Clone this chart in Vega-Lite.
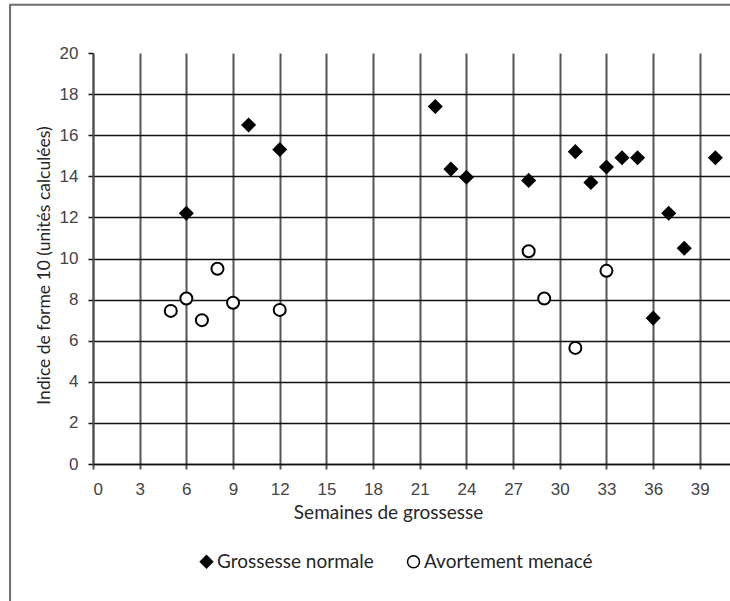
{
  "$schema": "https://vega.github.io/schema/vega-lite/v6.json",
  "width": 637,
  "height": 411,
  "autosize": "none",
  "padding": {"left": 93, "top": 53, "right": 0, "bottom": 137},
  "background": "white",
  "config": {
    "view": {"stroke": null},
    "axis": {
      "labelFont": "Liberation Sans",
      "labelFontSize": 17,
      "labelColor": "#444444",
      "titleFont": "Lato",
      "titleFontSize": 19,
      "titleFontWeight": "normal",
      "titleColor": "#262626",
      "tickSize": 5,
      "grid": true
    }
  },
  "layer": [
    {
      "data": {"values": [{}]},
      "mark": {"type": "rect", "fill": null, "stroke": "#6e6e6e", "strokeWidth": 2},
      "encoding": {
        "x": {"datum": -5.33, "type": "quantitative", "scale": {"domain": [0, 40.94], "nice": false}},
        "x2": {"datum": 45},
        "y": {"datum": 22.35, "type": "quantitative", "scale": {"domain": [0, 20], "nice": false}},
        "y2": {"datum": -10}
      }
    },
    {
      "data": {
        "values": [
          {"semaine": 6, "indice": 12.2, "groupe": "Grossesse normale"},
          {"semaine": 10, "indice": 16.5, "groupe": "Grossesse normale"},
          {"semaine": 12, "indice": 15.3, "groupe": "Grossesse normale"},
          {"semaine": 22, "indice": 17.4, "groupe": "Grossesse normale"},
          {"semaine": 23, "indice": 14.35, "groupe": "Grossesse normale"},
          {"semaine": 24, "indice": 13.95, "groupe": "Grossesse normale"},
          {"semaine": 28, "indice": 13.8, "groupe": "Grossesse normale"},
          {"semaine": 31, "indice": 15.2, "groupe": "Grossesse normale"},
          {"semaine": 32, "indice": 13.7, "groupe": "Grossesse normale"},
          {"semaine": 33, "indice": 14.45, "groupe": "Grossesse normale"},
          {"semaine": 34, "indice": 14.9, "groupe": "Grossesse normale"},
          {"semaine": 35, "indice": 14.9, "groupe": "Grossesse normale"},
          {"semaine": 36, "indice": 7.1, "groupe": "Grossesse normale"},
          {"semaine": 37, "indice": 12.2, "groupe": "Grossesse normale"},
          {"semaine": 38, "indice": 10.5, "groupe": "Grossesse normale"},
          {"semaine": 40, "indice": 14.9, "groupe": "Grossesse normale"},
          {"semaine": 5, "indice": 7.45, "groupe": "Avortement menacé"},
          {"semaine": 6, "indice": 8.05, "groupe": "Avortement menacé"},
          {"semaine": 7, "indice": 7.0, "groupe": "Avortement menacé"},
          {"semaine": 8, "indice": 9.5, "groupe": "Avortement menacé"},
          {"semaine": 9, "indice": 7.85, "groupe": "Avortement menacé"},
          {"semaine": 12, "indice": 7.5, "groupe": "Avortement menacé"},
          {"semaine": 28, "indice": 10.35, "groupe": "Avortement menacé"},
          {"semaine": 29, "indice": 8.05, "groupe": "Avortement menacé"},
          {"semaine": 31, "indice": 5.65, "groupe": "Avortement menacé"},
          {"semaine": 33, "indice": 9.4, "groupe": "Avortement menacé"}
        ]
      },
      "mark": {"type": "point", "filled": true, "stroke": "black", "strokeWidth": 2, "opacity": 1},
      "encoding": {
        "x": {
          "field": "semaine",
          "type": "quantitative",
          "title": "Semaines de grossesse",
          "scale": {"domain": [0, 40.94], "nice": false},
          "axis": {
            "values": [0, 3, 6, 9, 12, 15, 18, 21, 24, 27, 30, 33, 36, 39],
            "gridColor": "#555555",
            "gridWidth": 2,
            "tickColor": "#555555",
            "tickWidth": 2,
            "domainColor": "#111111",
            "domainWidth": 1.5,
            "labelPadding": 12,
            "titlePadding": 6,
            "titleX": 295
          }
        },
        "y": {
          "field": "indice",
          "type": "quantitative",
          "title": "Indice de forme 10 (unités calculées)",
          "scale": {"domain": [0, 20], "nice": false},
          "axis": {
            "values": [0, 2, 4, 6, 8, 10, 12, 14, 16, 18, 20],
            "gridColor": "#111111",
            "gridWidth": 1.5,
            "gridOpacity": {"condition": {"test": "datum.value == 20", "value": 0}, "value": 1},
            "tickColor": "#111111",
            "tickWidth": 1.5,
            "domainColor": "#555555",
            "domainWidth": 2,
            "labelPadding": 10,
            "titlePadding": 6,
            "titleFontSize": 17.5,
            "titleY": 212
          }
        },
        "shape": {
          "field": "groupe",
          "type": "nominal",
          "scale": {"domain": ["Grossesse normale", "Avortement menacé"], "range": ["diamond", "circle"]},
          "legend": {
            "orient": "none",
            "direction": "horizontal",
            "legendX": 104,
            "legendY": 499,
            "title": null,
            "labelFont": "Lato",
            "labelFontSize": 19,
            "labelColor": "#262626",
            "labelOffset": 1,
            "labelLimit": 0,
            "columnPadding": 30,
            "symbolStrokeWidth": 1.5
          }
        },
        "fill": {
          "field": "groupe",
          "type": "nominal",
          "scale": {"domain": ["Grossesse normale", "Avortement menacé"], "range": ["black", "white"]}
        },
        "size": {
          "field": "groupe",
          "type": "nominal",
          "scale": {"domain": ["Grossesse normale", "Avortement menacé"], "range": [150, 144]}
        }
      }
    }
  ]
}
